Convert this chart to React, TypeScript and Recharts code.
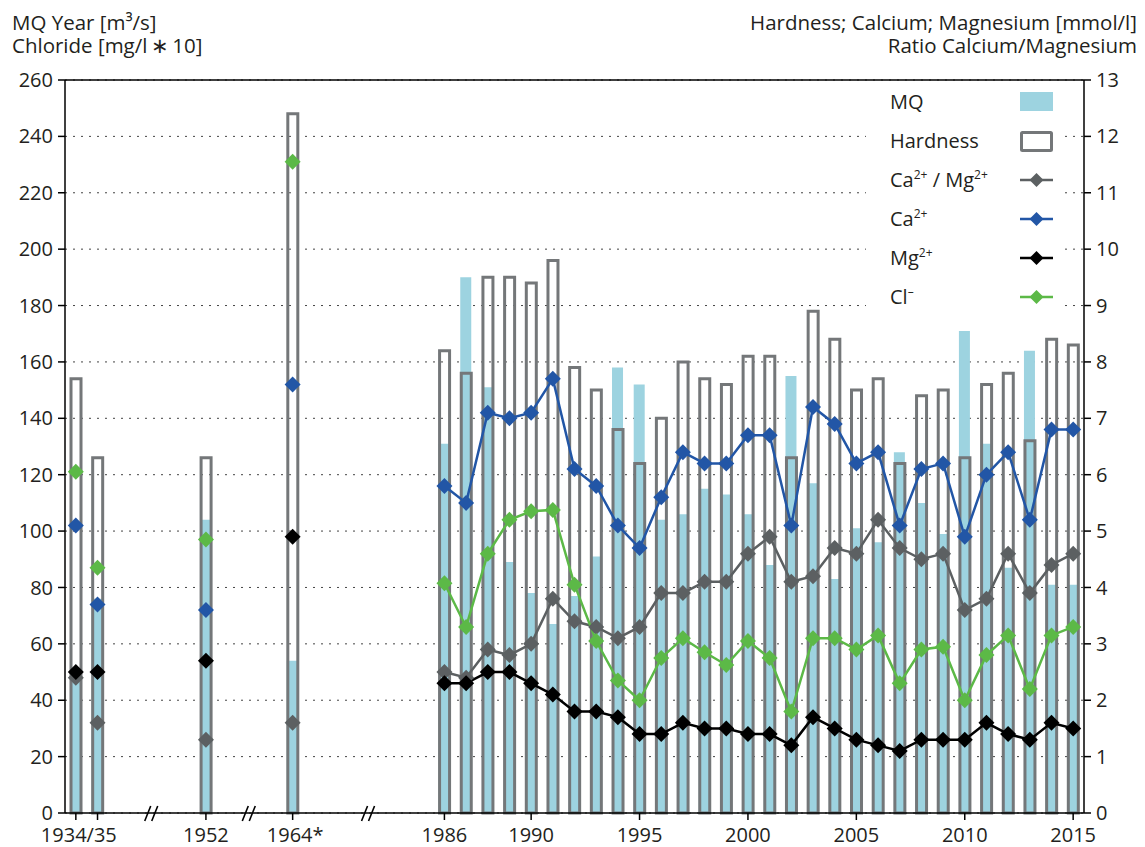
import React from 'react';
import {
  ComposedChart,
  Bar,
  Line,
  XAxis,
  YAxis,
  CartesianGrid,
  ReferenceLine,
  Legend,
} from 'recharts';

const FONT = '"Open Sans", "Noto Sans", sans-serif';
const TEXT = '#231f20';

const COLORS = {
  mq: '#9dd3e0',
  hardness: '#747779',
  ratio: '#5c6062',
  ca: '#2256a6',
  mg: '#000000',
  cl: '#5cb947',
};

// measured years (first four are the isolated early samples)
const years = [
  '1934', '1935', '1952', '1964',
  '1986', '1987', '1988', '1989', '1990', '1991', '1992', '1993', '1994', '1995',
  '1996', '1997', '1998', '1999', '2000', '2001', '2002', '2003', '2004', '2005',
  '2006', '2007', '2008', '2009', '2010', '2011', '2012', '2013', '2014', '2015',
];
const EARLY = 4;

// MQ year [m3/s] - left axis
const mq = [
  47, 76, 104, 54,
  131, 190, 151, 89, 78, 67, 77, 91, 158, 152,
  104, 106, 115, 113, 106, 88, 155, 117, 83, 101,
  96, 128, 110, 99, 171, 131, 87, 164, 81, 81,
];

// hardness [mmol/l] - right axis
const hardness = [
  7.7, 6.3, 6.3, 12.4,
  8.2, 7.8, 9.5, 9.5, 9.4, 9.8, 7.9, 7.5, 6.8, 6.2,
  7.0, 8.0, 7.7, 7.6, 8.1, 8.1, 6.3, 8.9, 8.4, 7.5,
  7.7, 6.2, 7.4, 7.5, 6.3, 7.6, 7.8, 6.6, 8.4, 8.3,
];

// ratio Ca/Mg - right axis
const ratio = [
  2.4, 1.6, 1.3, 1.6,
  2.5, 2.4, 2.9, 2.8, 3.0, 3.8, 3.4, 3.3, 3.1, 3.3,
  3.9, 3.9, 4.1, 4.1, 4.6, 4.9, 4.1, 4.2, 4.7, 4.6,
  5.2, 4.7, 4.5, 4.6, 3.6, 3.8, 4.6, 3.9, 4.4, 4.6,
];

// calcium [mmol/l] - right axis
const calcium = [
  5.1, 3.7, 3.6, 7.6,
  5.8, 5.5, 7.1, 7.0, 7.1, 7.7, 6.1, 5.8, 5.1, 4.7,
  5.6, 6.4, 6.2, 6.2, 6.7, 6.7, 5.1, 7.2, 6.9, 6.2,
  6.4, 5.1, 6.1, 6.2, 4.9, 6.0, 6.4, 5.2, 6.8, 6.8,
];

// magnesium [mmol/l] - right axis
const magnesium = [
  2.5, 2.5, 2.7, 4.9,
  2.3, 2.3, 2.5, 2.5, 2.3, 2.1, 1.8, 1.8, 1.7, 1.4,
  1.4, 1.6, 1.5, 1.5, 1.4, 1.4, 1.2, 1.7, 1.5, 1.3,
  1.2, 1.1, 1.3, 1.3, 1.3, 1.6, 1.4, 1.3, 1.6, 1.5,
];

// chloride [mg/l * 10] - left axis
const chloride = [
  121, 87, 97, 231,
  81.5, 66, 92, 104, 107, 107.5, 81, 61, 47, 40,
  55, 62, 57, 52.5, 61, 55, 36, 62, 62, 58,
  63, 46, 58, 59, 40, 56, 63, 44, 63, 66,
];

// x slots, including the empty gaps between sample periods
const slots = [
  '1934', '1935', 'g1', 'g2', 'g3', 'g4', '1952', 'g5', 'g6', 'g7', '1964',
  'g8', 'g9', 'g10', 'g11', 'g12', 'g13',
  '1986', '1987', '1988', '1989', '1990', '1991', '1992', '1993', '1994', '1995',
  '1996', '1997', '1998', '1999', '2000', '2001', '2002', '2003', '2004', '2005',
  '2006', '2007', '2008', '2009', '2010', '2011', '2012', '2013', '2014', '2015',
];

const tickLabels: Record<string, string> = {
  '1934': '1934/35',
  '1952': '1952',
  '1964': '1964*',
  '1986': '1986',
  '1990': '1990',
  '1995': '1995',
  '2000': '2000',
  '2005': '2005',
  '2010': '2010',
  '2015': '2015',
};
const tickMarks = ['1934', '1935', '1952', '1964', '1986', '1990', '1995', '2000', '2005', '2010', '2015'];
// axis break marks: slot -> shift in half-slots
const breaks: Record<string, number> = { g2: 1, g6: 0, g10: 1 };

const chartData = slots.map((slot) => {
  const i = years.indexOf(slot);
  const has = i >= 0;
  const early = has && i < EARLY;
  const late = has && !early;
  return {
    slot,
    mq: has ? mq[i] : null,
    hardness: has ? hardness[i] : null,
    ratio: late ? ratio[i] : null,
    ratioEarly: early ? ratio[i] : null,
    ca: late ? calcium[i] : null,
    caEarly: early ? calcium[i] : null,
    mg: late ? magnesium[i] : null,
    mgEarly: early ? magnesium[i] : null,
    cl: late ? chloride[i] : null,
    clEarly: early ? chloride[i] : null,
  };
});

const diamond = (color: string, r = 8) => (props: any) => {
  const { cx, cy, index, value } = props;
  if (cx == null || cy == null || value == null) return <g key={`d-${index}`} />;
  return (
    <path
      key={`d-${index}`}
      d={`M${cx},${cy - r}L${cx + r},${cy}L${cx},${cy + r}L${cx - r},${cy}Z`}
      fill={color}
    />
  );
};

const XTick = (props: any) => {
  const { x, y, payload } = props;
  const v = String(payload.value);
  const half = payload.offset || 10.84;
  const label = tickLabels[v];
  const shift = v === '1934' ? 3 : v === '1964' ? 2.5 : 0;
  if (v in breaks) {
    const bx = x + breaks[v] * half;
    return (
      <g stroke="#000" strokeWidth={1.6}>
        <line x1={bx - 7} y1={y + 8} x2={bx - 1} y2={y - 7} />
        <line x1={bx} y1={y + 8} x2={bx + 6} y2={y - 7} />
      </g>
    );
  }
  return (
    <g>
      {tickMarks.includes(v) && <line x1={x} y1={y} x2={x} y2={y + 7} stroke="#000" strokeWidth={1.5} />}
      {label && (
        <text x={x + shift} y={y + 28.5} textAnchor="middle" fontSize={20} fontFamily={FONT} fill={TEXT}>
          {label}
        </text>
      )}
    </g>
  );
};

const Sup = ({ children }: { children: React.ReactNode }) => (
  <span style={{ fontSize: 12, position: 'relative', top: -8 }}>{children}</span>
);

const legendItems: { key: string; label: React.ReactNode; kind: 'fill' | 'box' | 'line'; color: string }[] = [
  { key: 'mq', label: 'MQ', kind: 'fill', color: COLORS.mq },
  { key: 'hardness', label: 'Hardness', kind: 'box', color: COLORS.hardness },
  { key: 'ratio', label: <>Ca<Sup>2+</Sup> / Mg<Sup>2+</Sup></>, kind: 'line', color: COLORS.ratio },
  { key: 'ca', label: <>Ca<Sup>2+</Sup></>, kind: 'line', color: COLORS.ca },
  { key: 'mg', label: <>Mg<Sup>2+</Sup></>, kind: 'line', color: COLORS.mg },
  { key: 'cl', label: <>Cl<Sup>–</Sup></>, kind: 'line', color: COLORS.cl },
];

const renderLegend = () => (
  <div style={{ background: '#fff', fontFamily: FONT, fontSize: 20, color: TEXT, paddingBottom: 4 }}>
    {legendItems.map((item) => (
      <div key={item.key} style={{ display: 'flex', alignItems: 'center', height: 39 }}>
        <div style={{ width: 128, paddingLeft: 24, whiteSpace: 'nowrap' }}>{item.label}</div>
        <svg width={36} height={24} style={{ display: 'block' }}>
          {item.kind === 'fill' && <rect x={2} y={2} width={33} height={19} fill={item.color} />}
          {item.kind === 'box' && (
            <rect x={3.5} y={3.5} width={30} height={18} fill="#fff" stroke={item.color} strokeWidth={3} rx={1} />
          )}
          {item.kind === 'line' && (
            <>
              <line x1={2} y1={12} x2={35} y2={12} stroke={item.color} strokeWidth={2.5} />
              <path d="M18.5,5L25.5,12L18.5,19L11.5,12Z" fill={item.color} />
            </>
          )}
        </svg>
      </div>
    ))}
  </div>
);

const titleStyle: React.CSSProperties = {
  position: 'absolute',
  top: 11,
  fontFamily: FONT,
  fontSize: 20.5,
  lineHeight: '23px',
  color: TEXT,
};

export default function App() {
  return (
    <div style={{ position: 'absolute', left: 0, top: 0, width: 1145, height: 847, background: '#fff' }}>
      <div style={{ ...titleStyle, left: 12 }}>
        <div>MQ Year [m³/s]</div>
        <div>Chloride [mg/l{'\u2009'}∗{'\u2009'}10]</div>
      </div>
      <div style={{ ...titleStyle, right: 8, textAlign: 'right' }}>
        <div>Hardness; Calcium; Magnesium [mmol/l]</div>
        <div>Ratio Calcium/Magnesium</div>
      </div>
      <ComposedChart
        width={1145}
        height={847}
        data={chartData}
        margin={{ top: 80, right: 0, bottom: 0, left: 0 }}
        style={{ position: 'absolute', left: 0, top: 0 }}
      >
        <CartesianGrid
          xAxisId="main"
          yAxisId="left"
          vertical={false}
          strokeDasharray="2 6"
          stroke="#444"
        />
        <XAxis
          xAxisId="main"
          dataKey="slot"
          interval={0}
          tickSize={0}
          tickMargin={0}
          tickLine={false}
          axisLine={{ stroke: '#000', strokeWidth: 1.5 }}
          tick={<XTick />}
          height={34}
        />
        <XAxis xAxisId="over" dataKey="slot" hide />
        <YAxis
          yAxisId="left"
          domain={[0, 260]}
          ticks={[0, 20, 40, 60, 80, 100, 120, 140, 160, 180, 200, 220, 240, 260]}
          width={65}
          tickSize={7}
          tickMargin={5}
          axisLine={{ stroke: '#000', strokeWidth: 1.5 }}
          tickLine={{ stroke: '#000', strokeWidth: 1.5 }}
          tick={{ fontSize: 20, fill: TEXT, fontFamily: FONT }}
        />
        <YAxis
          yAxisId="right"
          orientation="right"
          domain={[0, 13]}
          ticks={[0, 1, 2, 3, 4, 5, 6, 7, 8, 9, 10, 11, 12, 13]}
          width={61}
          tickSize={7}
          tickMargin={5}
          axisLine={{ stroke: '#000', strokeWidth: 1.5 }}
          tickLine={{ stroke: '#000', strokeWidth: 1.5 }}
          tick={{ fontSize: 20, fill: TEXT, fontFamily: FONT }}
        />
        <ReferenceLine yAxisId="left" xAxisId="main" y={260} stroke="#000" strokeWidth={1.5} />
        <Legend
          layout="horizontal"
          verticalAlign="middle"
          align="center"
          content={renderLegend}
          wrapperStyle={{ left: 866, top: 82, width: 194 }}
        />

        <Bar xAxisId="main" yAxisId="left" dataKey="mq" barSize={11} fill={COLORS.mq} isAnimationActive={false} />
        <Bar
          xAxisId="over"
          yAxisId="right"
          dataKey="hardness"
          barSize={10}
          fill="none"
          stroke={COLORS.hardness}
          strokeWidth={3}
          isAnimationActive={false}
        />

        <Line xAxisId="main" yAxisId="right" dataKey="ratio" stroke={COLORS.ratio} strokeWidth={2.5} dot={diamond(COLORS.ratio)} isAnimationActive={false} />
        <Line xAxisId="main" yAxisId="right" dataKey="ratioEarly" stroke="none" dot={diamond(COLORS.ratio)} isAnimationActive={false} />
        <Line xAxisId="main" yAxisId="right" dataKey="ca" stroke={COLORS.ca} strokeWidth={2.5} dot={diamond(COLORS.ca)} isAnimationActive={false} />
        <Line xAxisId="main" yAxisId="right" dataKey="caEarly" stroke="none" dot={diamond(COLORS.ca)} isAnimationActive={false} />
        <Line xAxisId="main" yAxisId="right" dataKey="mg" stroke={COLORS.mg} strokeWidth={2.5} dot={diamond(COLORS.mg)} isAnimationActive={false} />
        <Line xAxisId="main" yAxisId="right" dataKey="mgEarly" stroke="none" dot={diamond(COLORS.mg)} isAnimationActive={false} />
        <Line xAxisId="main" yAxisId="left" dataKey="cl" stroke={COLORS.cl} strokeWidth={2.5} dot={diamond(COLORS.cl)} isAnimationActive={false} />
        <Line xAxisId="main" yAxisId="left" dataKey="clEarly" stroke="none" dot={diamond(COLORS.cl)} isAnimationActive={false} />
      </ComposedChart>
    </div>
  );
}
